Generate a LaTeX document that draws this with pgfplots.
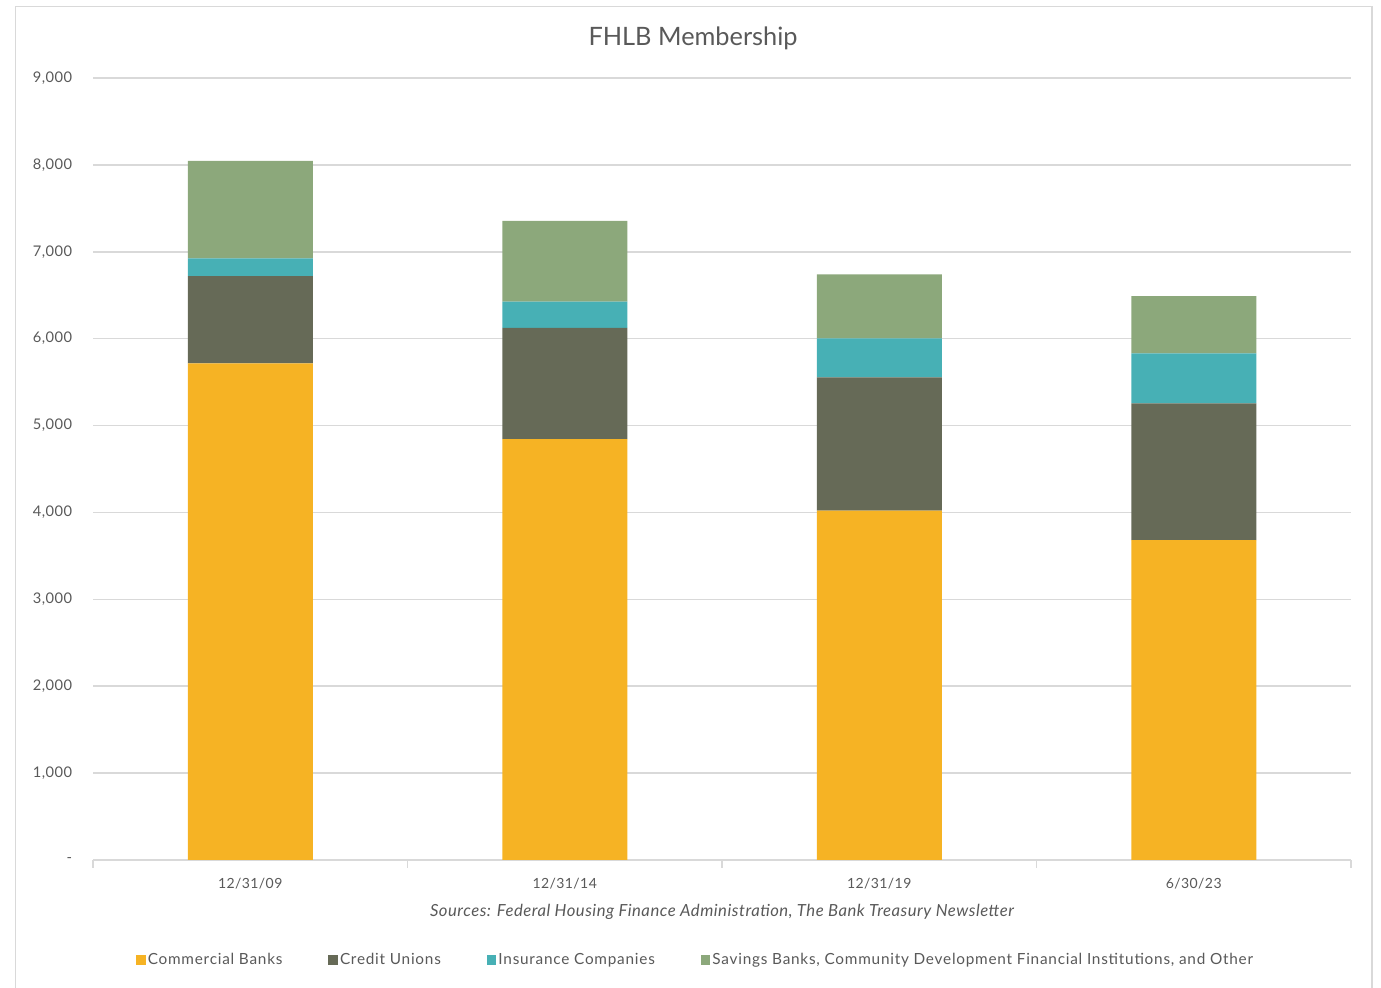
\documentclass[border=0pt]{standalone}
\usepackage{fontspec}
\setmainfont{Lato}
\newfontfamily\spaced[LetterSpace=5]{Lato}
\newfontfamily\slightly[LetterSpace=3]{Lato}
\usepackage{pgfplots}
\pgfplotsset{compat=1.18}

\definecolor{txt}{HTML}{595959}
\definecolor{gridc}{HTML}{D9D9D9}
\definecolor{cbank}{HTML}{F6B324}
\definecolor{cunion}{HTML}{666A57}
\definecolor{cins}{HTML}{47B0B5}
\definecolor{csav}{HTML}{8CA87B}

% FHLB members by institution type
\pgfplotstableread{
x  bank  union  ins  sav
0  5715  1005   204  1123
1  4845  1280   300   932
2  4020  1535   448   737
3  3682  1573   576   659
}\members

\begin{document}
\begin{tikzpicture}[x=0.75pt,y=0.75pt]
\path[use as bounding box] (0,0) rectangle (1381,988);
\draw[gridc, line width=1.4pt] (15.5,-5) -- (15.5,981.5) -- (1372,981.5) -- (1372,-5);
\node[text=txt, font=\fontsize{19}{22}\selectfont] at (693,950) {FHLB Membership};
\begin{axis}[
  at={(69.75pt,96pt)}, anchor=south west,
  scale only axis, width=943.5pt, height=586.5pt,
  xmin=-0.5, xmax=3.5, ymin=0, ymax=9000,
  ybar stacked, bar width=93.75pt,
  axis lines*=left,
  y axis line style={draw=none},
  x axis line style={gridc, line width=1.2pt},
  xtick={0,1,2,3},
  xticklabels={12/31/09,12/31/14,12/31/19,6/30/23},
  major x tick style={draw=none},
  minor xtick={-0.5,0.5,1.5,2.5,3.5},
  minor x tick style={gridc, line width=1.2pt},
  minor tick length=6pt,
  tick align=outside,
  xticklabel style={anchor=center, yshift=-13.5pt, text=txt, font=\slightly\fontsize{10.5}{12}\selectfont},
  ytick={0,1000,...,9000},
  yticklabels={{-\hspace{7pt}},{1,000},{2,000},{3,000},{4,000},{5,000},{6,000},{7,000},{8,000},{9,000}},
  major y tick style={draw=none},
  yticklabel style={anchor=east, inner sep=0pt, xshift=-11.25pt, text=txt, font=\slightly\fontsize{11}{12}\selectfont},
  ymajorgrids,
  grid style={gridc, line width=1.2pt},
  xlabel={\itshape Sources: Federal Housing Finance Administration, The Bank Treasury Newsletter},
  xlabel style={at={(0.5,-0.0665)}, anchor=center, text=txt, font=\slightly\fontsize{12.5}{14}\selectfont},
  legend columns=4,
  legend style={draw=none, at={(0.479,-0.1279)}, anchor=center,
    font=\spaced\fontsize{11.5}{13}\selectfont, text=txt,
    /tikz/every even column/.append style={column sep=33pt},
    nodes={inner sep=1.5pt}},
  legend cell align=left,
  legend image code/.code={\fill[#1, draw=none] (0pt,-3.6pt) rectangle (7.2pt,3.6pt);},
]
\addplot[fill=cbank, draw=none] table[x=x, y=bank] {\members};
\addplot[fill=cunion, draw=none] table[x=x, y=union] {\members};
\addplot[fill=cins, draw=none] table[x=x, y=ins] {\members};
\addplot[fill=csav, draw=none] table[x=x, y=sav] {\members};
\legend{Commercial Banks, Credit Unions, Insurance Companies, {Savings Banks, Community Development Financial Institutions, and Other}}
\end{axis}
\end{tikzpicture}
\end{document}
